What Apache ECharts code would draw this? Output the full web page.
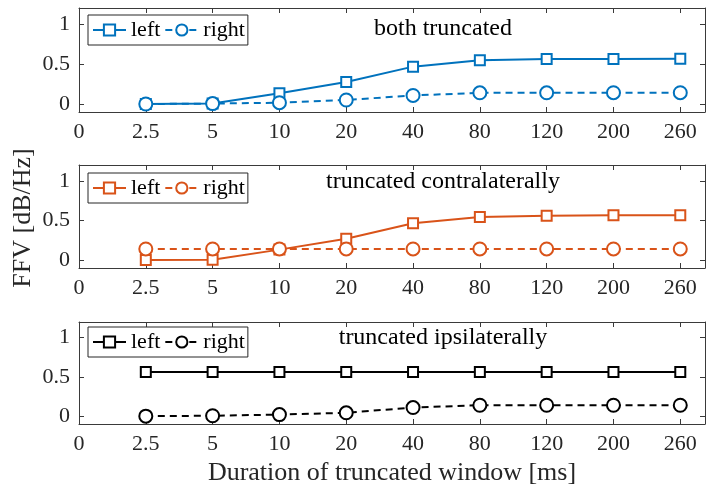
<!DOCTYPE html>
<html>
<head>
<meta charset="utf-8">
<script src="https://cdn.jsdelivr.net/npm/echarts@6/dist/echarts.min.js"></script>
<style>
  html, body { margin: 0; padding: 0; background: #fff; }
  #chart { width: 707px; height: 494px; }
</style>
</head>
<body>
<div id="chart"></div>
<script>
// Tick labels of the duration axis (position index 0..9)
const xTicks = ['0', '2.5', '5', '10', '20', '40', '80', '120', '200', '260'];
// Durations of the truncated window [ms] at which FFV was evaluated
const durations = ['2.5', '5', '10', '20', '40', '80', '120', '200', '260'];
const yTicks = [0, 0.5, 1];

// FFV [dB/Hz], one array per panel and ear
const bothLeft    = [0.000, 0.005, 0.135, 0.274, 0.467, 0.547, 0.561, 0.564, 0.565];
const bothRight   = [0.000, 0.005, 0.016, 0.050, 0.107, 0.140, 0.140, 0.141, 0.141];
const contraLeft  = [0.000, 0.005, 0.132, 0.268, 0.466, 0.543, 0.561, 0.565, 0.565];
const contraRight = [0.140, 0.140, 0.140, 0.140, 0.140, 0.140, 0.140, 0.140, 0.140];
const ipsiLeft    = [0.562, 0.562, 0.562, 0.562, 0.562, 0.562, 0.562, 0.562, 0.562];
const ipsiRight   = [0.000, 0.005, 0.020, 0.043, 0.110, 0.139, 0.139, 0.139, 0.139];

const panelTitles = ['both truncated', 'truncated contralaterally', 'truncated ipsilaterally'];
const panelColors = ['#0072BD', '#D95319', '#000000'];
const panelSeries = [[bothLeft, bothRight], [contraLeft, contraRight], [ipsiLeft, ipsiRight]];

const FONT = '"Liberation Serif", "Times New Roman", serif';
const AXIS_COLOR = '#3a3a3a';
const TEXT_COLOR = '#262626';
const LINE_W = 2;

const grids = [
  { left: 79, right: 2, top: 8, height: 104 },
  { left: 79, right: 2, top: 165, height: 103 },
  { left: 79, right: 2, top: 322, height: 102 }
];
const legendTops = [15, 173, 327];
const titleY = [29, 182, 338];

const toPoints = vals => durations.map((d, i) => [i + 1, vals[i]]);
const xIdx = xTicks.map((t, i) => i);

const option = {
  animation: false,
  backgroundColor: '#ffffff',
  grid: grids.map(g => Object.assign({ outerBoundsMode: 'none', containLabel: false }, g)),
  xAxis: [],
  yAxis: [],
  series: [],
  legend: [],
  graphic: [{
    // shared y-axis title for the three panels
    type: 'text', x: 23, y: 218, rotation: Math.PI / 2, z: 10,
    style: {
      text: 'FFV [dB/Hz]', font: '26px ' + FONT, fill: TEXT_COLOR,
      textAlign: 'center', textVerticalAlign: 'middle'
    }
  }]
};

grids.forEach((g, p) => {
  const isLast = p === grids.length - 1;
  // bottom axis with labels
  option.xAxis.push({
    type: 'value', gridIndex: p, position: 'bottom', min: 0, max: 9.37,
    axisLine: { show: true, onZero: false, lineStyle: { color: AXIS_COLOR, width: 1 } },
    axisTick: { show: true, inside: true, length: 5, customValues: xIdx, lineStyle: { color: AXIS_COLOR } },
    axisLabel: {
      show: true, customValues: xIdx, margin: 9,
      formatter: v => xTicks[Math.round(v)],
      fontFamily: FONT, fontSize: 22, color: TEXT_COLOR
    },
    splitLine: { show: false },
    name: isLast ? 'Duration of truncated window [ms]' : '',
    nameLocation: 'middle', nameGap: 36, nameMoveOverlap: false,
    nameTextStyle: { fontFamily: FONT, fontSize: 26, color: TEXT_COLOR }
  });
  // top mirror axis (box + ticks)
  option.xAxis.push({
    type: 'value', gridIndex: p, position: 'top', min: 0, max: 9.37,
    axisLine: { show: true, onZero: false, lineStyle: { color: AXIS_COLOR, width: 1 } },
    axisTick: { show: true, inside: true, length: 5, customValues: xIdx, lineStyle: { color: AXIS_COLOR } },
    axisLabel: { show: false },
    splitLine: { show: false }
  });
  // left axis with labels
  option.yAxis.push({
    type: 'value', gridIndex: p, position: 'left', min: -0.1, max: 1.2,
    axisLine: { show: true, onZero: false, lineStyle: { color: AXIS_COLOR, width: 1 } },
    axisTick: { show: true, inside: true, length: 5, customValues: yTicks, lineStyle: { color: AXIS_COLOR } },
    axisLabel: {
      show: true, customValues: yTicks, margin: 9,
      formatter: v => String(v),
      fontFamily: FONT, fontSize: 22, color: TEXT_COLOR
    },
    splitLine: { show: false }
  });
  // right mirror axis
  option.yAxis.push({
    type: 'value', gridIndex: p, position: 'right', min: -0.1, max: 1.2,
    axisLine: { show: true, onZero: false, lineStyle: { color: AXIS_COLOR, width: 1 } },
    axisTick: { show: true, inside: true, length: 5, customValues: yTicks, lineStyle: { color: AXIS_COLOR } },
    axisLabel: { show: false },
    splitLine: { show: false }
  });

  const color = panelColors[p];
  const [leftVals, rightVals] = panelSeries[p];
  const leftName = 'left' + (p + 1);
  const rightName = 'right' + (p + 1);

  option.series.push({
    name: leftName, type: 'line', xAxisIndex: 2 * p, yAxisIndex: 2 * p,
    data: toPoints(leftVals),
    symbol: 'rect', symbolSize: 10,
    itemStyle: { color: '#ffffff', borderColor: color, borderWidth: LINE_W },
    lineStyle: { color: color, width: LINE_W, type: 'solid' },
    z: 2
  });
  option.series.push({
    name: rightName, type: 'line', xAxisIndex: 2 * p, yAxisIndex: 2 * p,
    data: toPoints(rightVals),
    symbol: 'circle', symbolSize: 13,
    itemStyle: { color: '#ffffff', borderColor: color, borderWidth: LINE_W },
    lineStyle: { color: color, width: LINE_W, type: [7, 5] },
    z: 3
  });

  option.legend.push({
    data: [leftName, rightName],
    left: 88, top: legendTops[p],
    orient: 'horizontal',
    selectedMode: false,
    itemWidth: 33, itemHeight: 14, itemGap: 4,
    padding: [4, 3, 4, 4],
    borderColor: '#262626', borderWidth: 1, backgroundColor: '#ffffff',
    formatter: name => name.replace(/\d+$/, ''),
    textStyle: { fontFamily: FONT, fontSize: 22, color: '#000' },
    itemStyle: { color: '#ffffff', borderColor: color, borderWidth: LINE_W },
    lineStyle: { color: color, width: LINE_W }
  });

  option.graphic.push({
    type: 'text', x: 443, y: titleY[p], z: 10,
    style: {
      text: panelTitles[p], font: '24px ' + FONT, fill: '#000',
      textAlign: 'center', textVerticalAlign: 'middle'
    }
  });
});

const chart = echarts.init(document.getElementById('chart'), null, { renderer: 'canvas' });
chart.setOption(option);
</script>
</body>
</html>
